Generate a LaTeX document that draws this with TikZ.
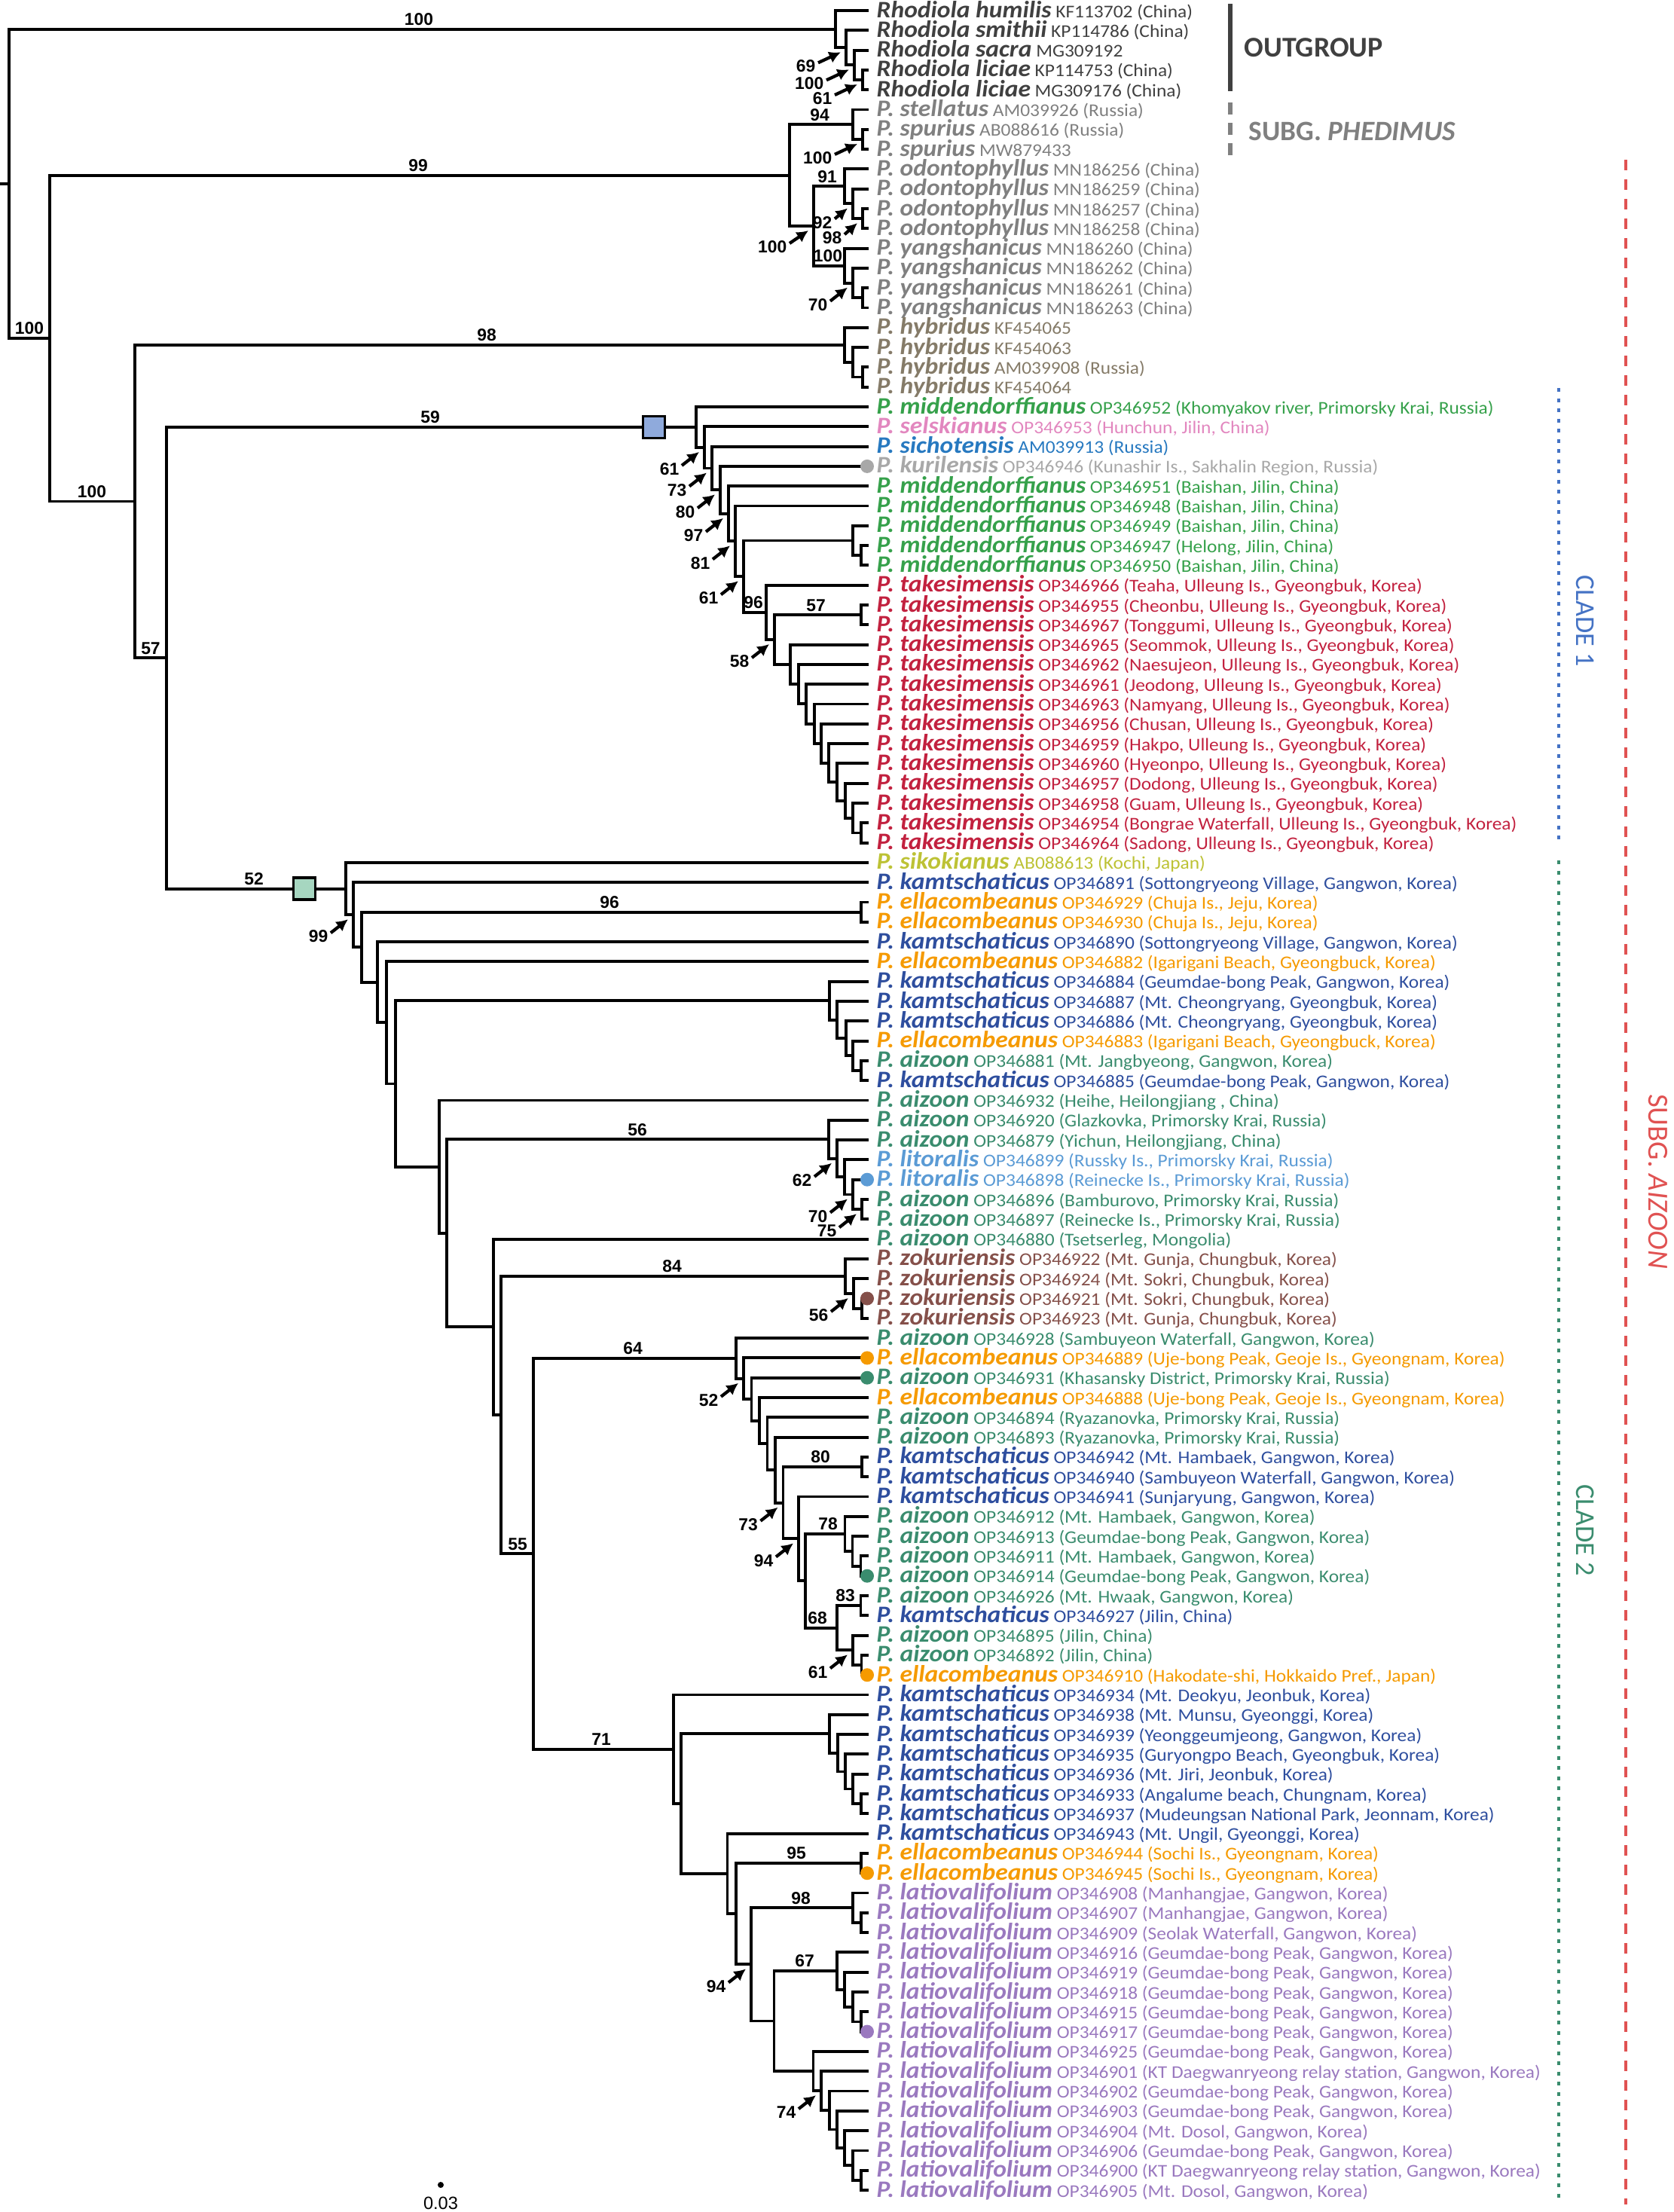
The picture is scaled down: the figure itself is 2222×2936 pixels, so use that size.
\documentclass[tikz,border=0pt]{standalone}
\usepackage{fontspec}
\setmainfont{Carlito}
\newfontfamily\taxfont{Carlito}[FakeStretch=1.07]
\newfontfamily\numfont{Liberation Sans}
\usepackage{xcolor}
\usepackage{tikz}
\usetikzlibrary{arrows.meta,calc,positioning}

\definecolor{rhocol}{HTML}{404040}
\definecolor{phecol}{HTML}{808080}
\definecolor{hybcol}{HTML}{857B68}
\definecolor{midcol}{HTML}{36A14B}
\definecolor{selcol}{HTML}{E287BF}
\definecolor{siccol}{HTML}{2779C0}
\definecolor{kurcol}{HTML}{A8A8A8}
\definecolor{takcol}{HTML}{C2213F}
\definecolor{sikcol}{HTML}{BDC235}
\definecolor{kamcol}{HTML}{2E4E9E}
\definecolor{ellcol}{HTML}{F59A00}
\definecolor{aizcol}{HTML}{3A8C6E}
\definecolor{litcol}{HTML}{5B9BD5}
\definecolor{zokcol}{HTML}{85504A}
\definecolor{latcol}{HTML}{9A79BF}
\definecolor{boxone}{HTML}{8FAADC}
\definecolor{boxtwo}{HTML}{A6D6C0}
\definecolor{aizred}{HTML}{E05252}
\definecolor{cladeone}{HTML}{4472C4}
\definecolor{cladetwo}{HTML}{3A8C6E}

\newcommand\spname[1]{{\fontsize{8.92}{9.5}\selectfont\bfseries\itshape #1}}

% one tip of the tree: index, colour, species, voucher
\newcommand\leaf[4]{%
  \coordinate (l#1) at (1153,{14+(#1-1)*26.3});
  \node[taxon, text=#2] (lab#1) at ($(l#1)+(10,9)$) {\spname{#3} #4};}

% one bracket: name, x, upper child, lower child
\newcommand\clade[4]{%
  \coordinate (#1m) at ($(#3)!.5!(#4)$);
  \coordinate (#1) at (#2,0 |- #1m);
  \draw[branch] (#3) -| (#1) |- (#4);}

% support value above a branch
\newcommand\bsup[3]{%
  \node[bsnum, anchor=south, yshift=1.2pt] (bs#2) at (#1,0 |- #2) {#3};}

% support value with an arrow to the node
\newcommand\bsarrow[3][23,-18]{%
  \coordinate (#2tip) at ($(#2)+(-7,6)$);
  \coordinate (#2tail) at ($(#2tip)-(#1)$);
  \node[bsnum, anchor=north east] (ar#2) at ($(#2tail)+(-3,-4)$) {#3};
  \draw[bsarrow] (#2tail) -- (#2tip);}

\begin{document}
\begin{tikzpicture}[
    x=0.01cm, y=-0.01cm,
    branch/.style={line width=1.1pt, black},
    taxon/.style={anchor=base west, inner sep=0pt, font=\taxfont\fontsize{6.76}{7.5}\selectfont},
    bsnum/.style={inner sep=0pt, font=\numfont\bfseries\fontsize{6.5}{7}\selectfont},
    bsarrow/.style={line width=1.2pt, -{Latex[length=4.4pt,width=4.6pt]}},
    cladebox/.style={draw=black, line width=1.1pt, minimum size=0.29cm, inner sep=0pt},
    tipdot/.style={circle, inner sep=0pt, minimum size=0.18cm}
]
\useasboundingbox (0,0) rectangle (2222,2936);

% Tips
\leaf{1}{rhocol}{Rhodiola humilis}{KF113702 (China)}
\leaf{2}{rhocol}{Rhodiola smithii}{KP114786 (China)}
\leaf{3}{rhocol}{Rhodiola sacra}{MG309192}
\leaf{4}{rhocol}{Rhodiola liciae}{KP114753 (China)}
\leaf{5}{rhocol}{Rhodiola liciae}{MG309176 (China)}
\leaf{6}{phecol}{P. stellatus}{AM039926 (Russia)}
\leaf{7}{phecol}{P. spurius}{AB088616 (Russia)}
\leaf{8}{phecol}{P. spurius}{MW879433}
\leaf{9}{phecol}{P. odontophyllus}{MN186256 (China)}
\leaf{10}{phecol}{P. odontophyllus}{MN186259 (China)}
\leaf{11}{phecol}{P. odontophyllus}{MN186257 (China)}
\leaf{12}{phecol}{P. odontophyllus}{MN186258 (China)}
\leaf{13}{phecol}{P. yangshanicus}{MN186260 (China)}
\leaf{14}{phecol}{P. yangshanicus}{MN186262 (China)}
\leaf{15}{phecol}{P. yangshanicus}{MN186261 (China)}
\leaf{16}{phecol}{P. yangshanicus}{MN186263 (China)}
\leaf{17}{hybcol}{P. hybridus}{KF454065}
\leaf{18}{hybcol}{P. hybridus}{KF454063}
\leaf{19}{hybcol}{P. hybridus}{AM039908 (Russia)}
\leaf{20}{hybcol}{P. hybridus}{KF454064}
\leaf{21}{midcol}{P. middendorffianus}{OP346952 (Khomyakov river, Primorsky Krai, Russia)}
\leaf{22}{selcol}{P. selskianus}{OP346953 (Hunchun, Jilin, China)}
\leaf{23}{siccol}{P. sichotensis}{AM039913 (Russia)}
\leaf{24}{kurcol}{P. kurilensis}{OP346946 (Kunashir Is., Sakhalin Region, Russia)}
\leaf{25}{midcol}{P. middendorffianus}{OP346951 (Baishan, Jilin, China)}
\leaf{26}{midcol}{P. middendorffianus}{OP346948 (Baishan, Jilin, China)}
\leaf{27}{midcol}{P. middendorffianus}{OP346949 (Baishan, Jilin, China)}
\leaf{28}{midcol}{P. middendorffianus}{OP346947 (Helong, Jilin, China)}
\leaf{29}{midcol}{P. middendorffianus}{OP346950 (Baishan, Jilin, China)}
\leaf{30}{takcol}{P. takesimensis}{OP346966 (Teaha, Ulleung Is., Gyeongbuk, Korea)}
\leaf{31}{takcol}{P. takesimensis}{OP346955 (Cheonbu, Ulleung Is., Gyeongbuk, Korea)}
\leaf{32}{takcol}{P. takesimensis}{OP346967 (Tonggumi, Ulleung Is., Gyeongbuk, Korea)}
\leaf{33}{takcol}{P. takesimensis}{OP346965 (Seommok, Ulleung Is., Gyeongbuk, Korea)}
\leaf{34}{takcol}{P. takesimensis}{OP346962 (Naesujeon, Ulleung Is., Gyeongbuk, Korea)}
\leaf{35}{takcol}{P. takesimensis}{OP346961 (Jeodong, Ulleung Is., Gyeongbuk, Korea)}
\leaf{36}{takcol}{P. takesimensis}{OP346963 (Namyang, Ulleung Is., Gyeongbuk, Korea)}
\leaf{37}{takcol}{P. takesimensis}{OP346956 (Chusan, Ulleung Is., Gyeongbuk, Korea)}
\leaf{38}{takcol}{P. takesimensis}{OP346959 (Hakpo, Ulleung Is., Gyeongbuk, Korea)}
\leaf{39}{takcol}{P. takesimensis}{OP346960 (Hyeonpo, Ulleung Is., Gyeongbuk, Korea)}
\leaf{40}{takcol}{P. takesimensis}{OP346957 (Dodong, Ulleung Is., Gyeongbuk, Korea)}
\leaf{41}{takcol}{P. takesimensis}{OP346958 (Guam, Ulleung Is., Gyeongbuk, Korea)}
\leaf{42}{takcol}{P. takesimensis}{OP346954 (Bongrae Waterfall, Ulleung Is., Gyeongbuk, Korea)}
\leaf{43}{takcol}{P. takesimensis}{OP346964 (Sadong, Ulleung Is., Gyeongbuk, Korea)}
\leaf{44}{sikcol}{P. sikokianus}{AB088613 (Kochi, Japan)}
\leaf{45}{kamcol}{P. kamtschaticus}{OP346891 (Sottongryeong Village, Gangwon, Korea)}
\leaf{46}{ellcol}{P. ellacombeanus}{OP346929 (Chuja Is., Jeju, Korea)}
\leaf{47}{ellcol}{P. ellacombeanus}{OP346930 (Chuja Is., Jeju, Korea)}
\leaf{48}{kamcol}{P. kamtschaticus}{OP346890 (Sottongryeong Village, Gangwon, Korea)}
\leaf{49}{ellcol}{P. ellacombeanus}{OP346882 (Igarigani Beach, Gyeongbuck, Korea)}
\leaf{50}{kamcol}{P. kamtschaticus}{OP346884 (Geumdae-bong Peak, Gangwon, Korea)}
\leaf{51}{kamcol}{P. kamtschaticus}{OP346887 (Mt. Cheongryang, Gyeongbuk, Korea)}
\leaf{52}{kamcol}{P. kamtschaticus}{OP346886 (Mt. Cheongryang, Gyeongbuk, Korea)}
\leaf{53}{ellcol}{P. ellacombeanus}{OP346883 (Igarigani Beach, Gyeongbuck, Korea)}
\leaf{54}{aizcol}{P. aizoon}{OP346881 (Mt. Jangbyeong, Gangwon, Korea)}
\leaf{55}{kamcol}{P. kamtschaticus}{OP346885 (Geumdae-bong Peak, Gangwon, Korea)}
\leaf{56}{aizcol}{P. aizoon}{OP346932 (Heihe, Heilongjiang , China)}
\leaf{57}{aizcol}{P. aizoon}{OP346920 (Glazkovka, Primorsky Krai, Russia)}
\leaf{58}{aizcol}{P. aizoon}{OP346879 (Yichun, Heilongjiang, China)}
\leaf{59}{litcol}{P. litoralis}{OP346899 (Russky Is., Primorsky Krai, Russia)}
\leaf{60}{litcol}{P. litoralis}{OP346898 (Reinecke Is., Primorsky Krai, Russia)}
\leaf{61}{aizcol}{P. aizoon}{OP346896 (Bamburovo, Primorsky Krai, Russia)}
\leaf{62}{aizcol}{P. aizoon}{OP346897 (Reinecke Is., Primorsky Krai, Russia)}
\leaf{63}{aizcol}{P. aizoon}{OP346880 (Tsetserleg, Mongolia)}
\leaf{64}{zokcol}{P. zokuriensis}{OP346922 (Mt. Gunja, Chungbuk, Korea)}
\leaf{65}{zokcol}{P. zokuriensis}{OP346924 (Mt. Sokri, Chungbuk, Korea)}
\leaf{66}{zokcol}{P. zokuriensis}{OP346921 (Mt. Sokri, Chungbuk, Korea)}
\leaf{67}{zokcol}{P. zokuriensis}{OP346923 (Mt. Gunja, Chungbuk, Korea)}
\leaf{68}{aizcol}{P. aizoon}{OP346928 (Sambuyeon Waterfall, Gangwon, Korea)}
\leaf{69}{ellcol}{P. ellacombeanus}{OP346889 (Uje-bong Peak, Geoje Is., Gyeongnam, Korea)}
\leaf{70}{aizcol}{P. aizoon}{OP346931 (Khasansky District, Primorsky Krai, Russia)}
\leaf{71}{ellcol}{P. ellacombeanus}{OP346888 (Uje-bong Peak, Geoje Is., Gyeongnam, Korea)}
\leaf{72}{aizcol}{P. aizoon}{OP346894 (Ryazanovka, Primorsky Krai, Russia)}
\leaf{73}{aizcol}{P. aizoon}{OP346893 (Ryazanovka, Primorsky Krai, Russia)}
\leaf{74}{kamcol}{P. kamtschaticus}{OP346942 (Mt. Hambaek, Gangwon, Korea)}
\leaf{75}{kamcol}{P. kamtschaticus}{OP346940 (Sambuyeon Waterfall, Gangwon, Korea)}
\leaf{76}{kamcol}{P. kamtschaticus}{OP346941 (Sunjaryung, Gangwon, Korea)}
\leaf{77}{aizcol}{P. aizoon}{OP346912 (Mt. Hambaek, Gangwon, Korea)}
\leaf{78}{aizcol}{P. aizoon}{OP346913 (Geumdae-bong Peak, Gangwon, Korea)}
\leaf{79}{aizcol}{P. aizoon}{OP346911 (Mt. Hambaek, Gangwon, Korea)}
\leaf{80}{aizcol}{P. aizoon}{OP346914 (Geumdae-bong Peak, Gangwon, Korea)}
\leaf{81}{aizcol}{P. aizoon}{OP346926 (Mt. Hwaak, Gangwon, Korea)}
\leaf{82}{kamcol}{P. kamtschaticus}{OP346927 (Jilin, China)}
\leaf{83}{aizcol}{P. aizoon}{OP346895 (Jilin, China)}
\leaf{84}{aizcol}{P. aizoon}{OP346892 (Jilin, China)}
\leaf{85}{ellcol}{P. ellacombeanus}{OP346910 (Hakodate-shi, Hokkaido Pref., Japan)}
\leaf{86}{kamcol}{P. kamtschaticus}{OP346934 (Mt. Deokyu, Jeonbuk, Korea)}
\leaf{87}{kamcol}{P. kamtschaticus}{OP346938 (Mt. Munsu, Gyeonggi, Korea)}
\leaf{88}{kamcol}{P. kamtschaticus}{OP346939 (Yeonggeumjeong, Gangwon, Korea)}
\leaf{89}{kamcol}{P. kamtschaticus}{OP346935 (Guryongpo Beach, Gyeongbuk, Korea)}
\leaf{90}{kamcol}{P. kamtschaticus}{OP346936 (Mt. Jiri, Jeonbuk, Korea)}
\leaf{91}{kamcol}{P. kamtschaticus}{OP346933 (Angalume beach, Chungnam, Korea)}
\leaf{92}{kamcol}{P. kamtschaticus}{OP346937 (Mudeungsan National Park, Jeonnam, Korea)}
\leaf{93}{kamcol}{P. kamtschaticus}{OP346943 (Mt. Ungil, Gyeonggi, Korea)}
\leaf{94}{ellcol}{P. ellacombeanus}{OP346944 (Sochi Is., Gyeongnam, Korea)}
\leaf{95}{ellcol}{P. ellacombeanus}{OP346945 (Sochi Is., Gyeongnam, Korea)}
\leaf{96}{latcol}{P. latiovalifolium}{OP346908 (Manhangjae, Gangwon, Korea)}
\leaf{97}{latcol}{P. latiovalifolium}{OP346907 (Manhangjae, Gangwon, Korea)}
\leaf{98}{latcol}{P. latiovalifolium}{OP346909 (Seolak Waterfall, Gangwon, Korea)}
\leaf{99}{latcol}{P. latiovalifolium}{OP346916 (Geumdae-bong Peak, Gangwon, Korea)}
\leaf{100}{latcol}{P. latiovalifolium}{OP346919 (Geumdae-bong Peak, Gangwon, Korea)}
\leaf{101}{latcol}{P. latiovalifolium}{OP346918 (Geumdae-bong Peak, Gangwon, Korea)}
\leaf{102}{latcol}{P. latiovalifolium}{OP346915 (Geumdae-bong Peak, Gangwon, Korea)}
\leaf{103}{latcol}{P. latiovalifolium}{OP346917 (Geumdae-bong Peak, Gangwon, Korea)}
\leaf{104}{latcol}{P. latiovalifolium}{OP346925 (Geumdae-bong Peak, Gangwon, Korea)}
\leaf{105}{latcol}{P. latiovalifolium}{OP346901 (KT Daegwanryeong relay station, Gangwon, Korea)}
\leaf{106}{latcol}{P. latiovalifolium}{OP346902 (Geumdae-bong Peak, Gangwon, Korea)}
\leaf{107}{latcol}{P. latiovalifolium}{OP346903 (Geumdae-bong Peak, Gangwon, Korea)}
\leaf{108}{latcol}{P. latiovalifolium}{OP346904 (Mt. Dosol, Gangwon, Korea)}
\leaf{109}{latcol}{P. latiovalifolium}{OP346906 (Geumdae-bong Peak, Gangwon, Korea)}
\leaf{110}{latcol}{P. latiovalifolium}{OP346900 (KT Daegwanryeong relay station, Gangwon, Korea)}
\leaf{111}{latcol}{P. latiovalifolium}{OP346905 (Mt. Dosol, Gangwon, Korea)}

% Outgroup and subg. Phedimus
\clade{r3}{1145}{l4}{l5}
\clade{r2}{1134}{l3}{r3}
\clade{r1}{1123}{l2}{r2}
\clade{r0}{1109}{l1}{r1}
\clade{p2}{1145}{l7}{l8}
\clade{p1}{1132}{l6}{p2}
\clade{o3}{1145}{l11}{l12}
\clade{o2}{1132}{l10}{o3}
\clade{o1}{1121}{l9}{o2}
\clade{y3}{1145}{l15}{l16}
\clade{y2}{1132}{l14}{y3}
\clade{y1}{1121}{l13}{y2}
\clade{p3}{1080}{o1}{y1}
\clade{p0}{1048}{p1}{p3}
\clade{h3}{1145}{l19}{l20}
\clade{h2}{1132}{l18}{h3}
\clade{h1}{1121}{l17}{h2}

% Clade 1
\clade{m2}{1143}{l28}{l29}
\clade{m1}{1132}{l27}{m2}
\clade{tk11}{1143}{l42}{l43}
\clade{tk10}{1132}{l41}{tk11}
\clade{tk9}{1122}{l40}{tk10}
\clade{tk8}{1111}{l39}{tk9}
\clade{tk7}{1100}{l38}{tk8}
\clade{tk6}{1090}{l37}{tk7}
\clade{tk5}{1081}{l36}{tk6}
\clade{tk4}{1070}{l35}{tk5}
\clade{tk3}{1060}{l34}{tk4}
\clade{tk2}{1049}{l33}{tk3}
\clade{tka}{1143}{l31}{l32}
\clade{tk1}{1028}{tka}{tk2}
\clade{tk0}{1017}{l30}{tk1}
\clade{k6}{987}{m1}{tk0}
\clade{k5}{976}{l26}{k6}
\clade{k4}{967}{l25}{k5}
\clade{k3}{956}{l24}{k4}
\clade{k2}{945}{l23}{k3}
\clade{k1}{935}{l22}{k2}
\clade{k0}{924}{l21}{k1}

% Clade 2
\clade{qp}{1143}{l46}{l47}
\clade{g4}{1143}{l54}{l55}
\clade{g3}{1132}{l53}{g4}
\clade{g2}{1123}{l52}{g3}
\clade{g1}{1111}{l51}{g2}
\clade{g0}{1101}{l50}{g1}
\clade{u4}{1144}{l61}{l62}
\clade{u3}{1132}{l60}{u4}
\clade{u2}{1121}{l59}{u3}
\clade{u1}{1111}{l58}{u2}
\clade{u0}{1100}{l57}{u1}
\clade{z2}{1144}{l66}{l67}
\clade{z1}{1133}{l65}{z2}
\clade{z0}{1122}{l64}{z1}
\clade{vp}{1144}{l74}{l75}
\clade{x2}{1142.5}{l79}{l80}
\clade{x1}{1131.5}{l78}{x2}
\clade{x0}{1121.5}{l77}{x1}
\clade{ep}{1142.5}{l81}{l82}
\clade{e2}{1143.5}{l84}{l85}
\clade{e1}{1132}{l83}{e2}
\clade{e0}{1111}{ep}{e1}
\clade{v8}{1069}{x0}{e0}
\clade{v7}{1060}{l76}{v8}
\clade{v6}{1039.5}{vp}{v7}
\clade{v5}{1029}{l73}{v6}
\clade{v4}{1018.5}{l72}{v5}
\clade{v3}{1008}{l71}{v4}
\clade{v2}{997.5}{l70}{v3}
\clade{v1}{987}{l69}{v2}
\clade{v0}{977}{l68}{v1}
\clade{a4}{1142.7}{l91}{l92}
\clade{a3}{1132}{l90}{a4}
\clade{a2}{1122}{l89}{a3}
\clade{a1}{1112}{l88}{a2}
\clade{a0}{1100.6}{l87}{a1}
\clade{wp}{1142.7}{l94}{l95}
\clade{b1}{1142.7}{l97}{l98}
\clade{b0}{1132}{l96}{b1}
\clade{c3}{1142.7}{l102}{l103}
\clade{c2}{1132}{l101}{c3}
\clade{c1}{1121}{l100}{c2}
\clade{c0}{1111}{l99}{c1}
\clade{d6}{1142.7}{l110}{l111}
\clade{d5}{1132}{l109}{d6}
\clade{d4}{1121}{l108}{d5}
\clade{d3}{1111}{l107}{d4}
\clade{d2}{1100.6}{l106}{d3}
\clade{d1}{1090}{l105}{d2}
\clade{d0}{1079.5}{l104}{d1}
\clade{w5}{1027.5}{c0}{d0}
\clade{w4}{997}{b0}{w5}
\clade{w3}{977}{wp}{w4}
\clade{w2}{965.5}{l93}{w3}
\clade{w1}{904}{a0}{w2}
\clade{w0}{894}{l86}{w1}
\clade{s4}{708}{v0}{w0}
\clade{s3}{665}{z0}{s4}
\clade{s2}{655}{l63}{s3}
\clade{s1}{593}{u0}{s2}
\clade{s0}{583}{l56}{s1}
\clade{q5}{525}{g0}{s0}
\clade{q4}{513}{l49}{q5}
\clade{q3}{501}{l48}{q4}
\clade{q2}{480}{qp}{q3}
\clade{q1}{469}{l45}{q2}
\clade{q0}{459}{l44}{q1}

% Backbone
\clade{nc}{221}{k0}{q0}
\clade{nb}{179}{h1}{nc}
\clade{na}{66}{p0}{nb}
\clade{root}{12}{r0}{na}
\coordinate (stub) at (0,0 |- root);
\draw[branch] (root) -- (stub);

% Clade boxes
\node[cladebox, fill=boxone] (box1) at (868,0 |- k0) {};
\node[cladebox, fill=boxtwo] (box2) at (404,0 |- q0) {};

% Marked tips
\node[tipdot, fill=kurcol] (dot24) at (1151,0 |- l24) {};
\node[tipdot, fill=litcol] (dot60) at (1151,0 |- l60) {};
\node[tipdot, fill=zokcol] (dot66) at (1151,0 |- l66) {};
\node[tipdot, fill=ellcol] (dot69) at (1151,0 |- l69) {};
\node[tipdot, fill=aizcol] (dot70) at (1151,0 |- l70) {};
\node[tipdot, fill=aizcol] (dot80) at (1151,0 |- l80) {};
\node[tipdot, fill=ellcol] (dot85) at (1151,0 |- l85) {};
\node[tipdot, fill=ellcol] (dot95) at (1151,0 |- l95) {};
\node[tipdot, fill=latcol] (dot103) at (1151,0 |- l103) {};

% Support values on branches
\bsup{556}{r0}{100}
\bsup{555}{p0}{99}
\bsup{39}{na}{100}
\bsup{646}{h1}{98}
\bsup{122}{nb}{100}
\bsup{200}{nc}{57}
\bsup{571}{k0}{59}
\bsup{337}{q0}{52}
\bsup{1088}{p1}{94}
\bsup{1098}{o1}{91}
\bsup{1099}{y1}{100}
\bsup{1000}{tk0}{96}
\bsup{1083}{tka}{57}
\bsup{809}{qp}{96}
\bsup{846}{u0}{56}
\bsup{892}{z0}{84}
\bsup{840}{v0}{64}
\bsup{687}{s4}{55}
\bsup{1089}{vp}{80}
\bsup{1099}{x0}{78}
\bsup{1122}{ep}{83}
\bsup{1085}{e0}{68}
\bsup{798}{w0}{71}
\bsup{1057}{wp}{95}
\bsup{1063}{b0}{98}
\bsup{1068}{c0}{67}

% Support values with arrows
\bsarrow[30,-14]{r1}{69}
\bsarrow[30,-14]{r2}{100}
\bsarrow[30,-14]{r3}{61}
\bsarrow[30,-14]{p2}{100}
\bsarrow[17,-14]{o2}{92}
\bsarrow[17,-15]{o3}{98}
\bsarrow[25,-17]{p3}{100}
\bsarrow{y2}{70}
\bsarrow{k1}{61}
\bsarrow{k2}{73}
\bsarrow{k3}{80}
\bsarrow{k4}{97}
\bsarrow{k5}{81}
\bsarrow{k6}{61}
\bsarrow{tk1}{58}
\bsarrow{q1}{99}
\bsarrow{u1}{62}
\bsarrow{u3}{70}
\bsarrow{u4}{75}
\bsarrow{z1}{56}
\bsarrow{v1}{52}
\bsarrow{v6}{73}
\bsarrow{v7}{94}
\bsarrow{e1}{61}
\bsarrow{w4}{94}
\bsarrow{d1}{74}

% Group bars on the right
\draw[line width=1.5pt, rhocol] (1633,5) -- (1633,121);
\node[anchor=west, inner sep=0pt, text=rhocol, font=\bfseries\fontsize{10.8}{12}\selectfont] (outgroup) at (1651,63) {OUTGROUP};
\draw[line width=1.5pt, phecol, dash pattern=on 0.16cm off 0.11cm] (1633,136) -- (1633,211);
\node[anchor=west, inner sep=0pt, text=phecol, font=\bfseries\fontsize{10.6}{12}\selectfont] (phedimus) at (1657,174) {SUBG. \textit{PHEDIMUS}};
\draw[line width=0.9pt, aizred, dash pattern=on 0.14cm off 0.12cm] (2158,212) -- (2158,2926);
\node[rotate=-90, inner sep=0pt, text=aizred, font=\fontsize{11}{12}\selectfont] (aizoon) at (2201,1568) {SUBG. \textit{AIZOON}};
\draw[line width=1.4pt, cladeone, dash pattern=on 0.05cm off 0.085cm] (2069,515) -- (2069,1120);
\node[rotate=-90, inner sep=0pt, text=cladeone, font=\fontsize{10.3}{12}\selectfont] (cladeA) at (2104,824) {CLADE 1};
\draw[line width=1.4pt, cladetwo, dash pattern=on 0.05cm off 0.085cm] (2069,1142) -- (2069,2920);
\node[rotate=-90, inner sep=0pt, text=cladetwo, font=\fontsize{10.3}{12}\selectfont] (cladeB) at (2104,2031) {CLADE 2};

% Scale
\fill (585,2900) circle (0.04cm);
\node[anchor=north, inner sep=0pt, font=\numfont\fontsize{6.7}{8}\selectfont] (scale) at (585,2915) {0.03};

\end{tikzpicture}
\end{document}
